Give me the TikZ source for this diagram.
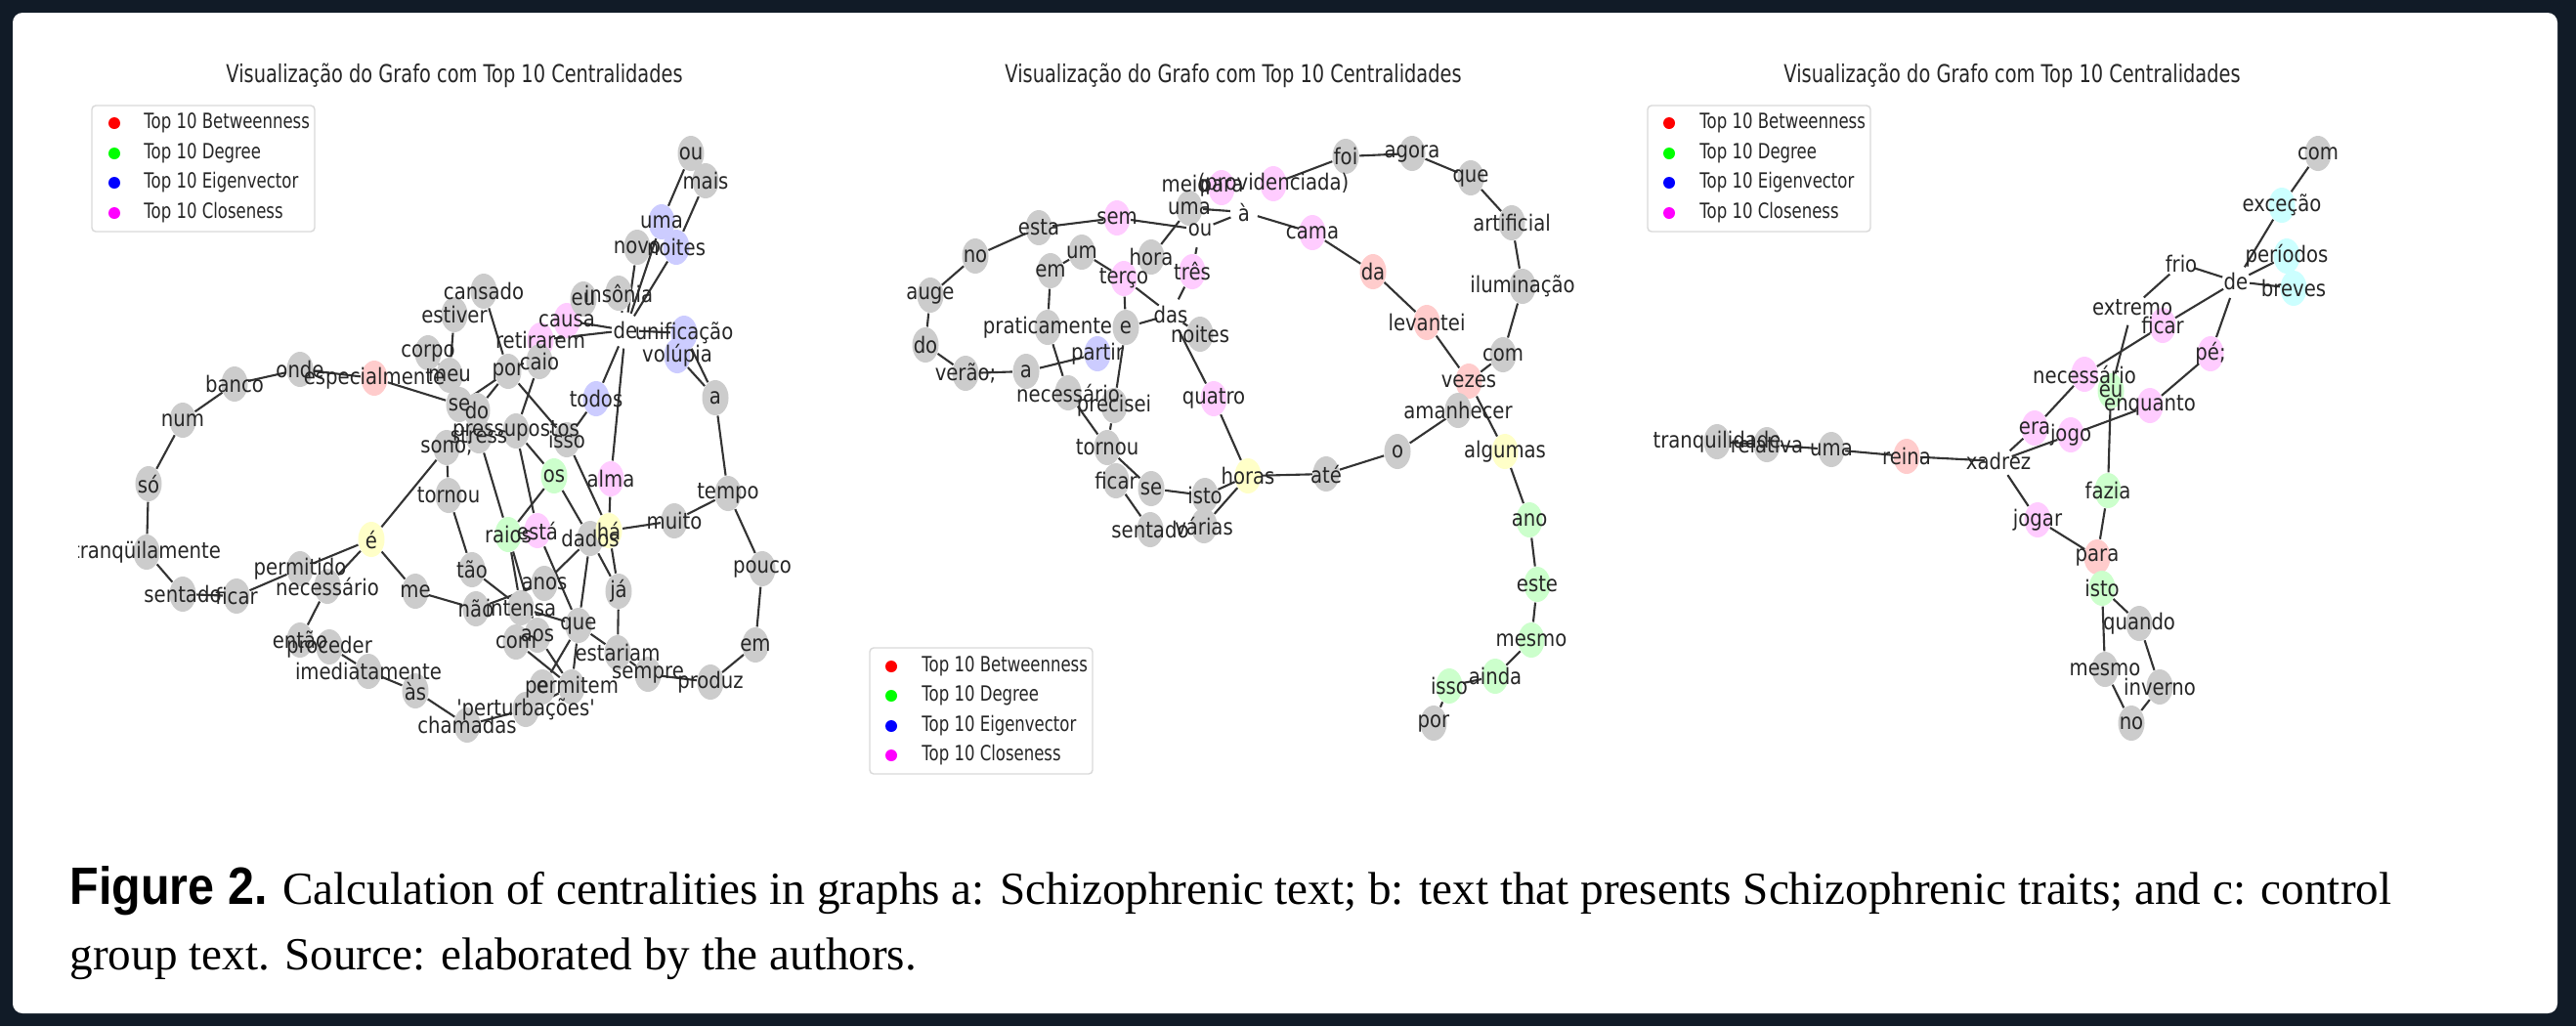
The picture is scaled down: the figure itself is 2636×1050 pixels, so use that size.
\documentclass[tikz,border=0pt]{standalone}
\usepackage{fontspec}
\setmainfont{Liberation Serif}
\newfontfamily\grafofont[FakeStretch=0.86]{DejaVu Sans}
\newfontfamily\titulofont[FakeStretch=0.77]{DejaVu Sans}
\newfontfamily\figurafont[FakeStretch=0.9]{Liberation Sans}
\usetikzlibrary{shapes.geometric, positioning, backgrounds}

\definecolor{moldura}{HTML}{111B27}
\definecolor{cGray}{HTML}{CCCCCC}
\definecolor{cBet}{HTML}{FFCCCC}
\definecolor{cDeg}{HTML}{CCFFCC}
\definecolor{cEig}{HTML}{CCCCFF}
\definecolor{cClo}{HTML}{FFCCFF}
\definecolor{cMix}{HTML}{FFFFC8}
\definecolor{cMixB}{HTML}{CCFFFF}
\definecolor{linha}{HTML}{333333}
\definecolor{pRed}{HTML}{FF0000}
\definecolor{pGreen}{HTML}{00FF00}
\definecolor{pBlue}{HTML}{0000FF}
\definecolor{pMagenta}{HTML}{FF00FF}

% word nodes: name/x/y/colour/word (pixels of the figure)
\newcommand{\nosA}{%
aBanco/240/393/cGray/banco, aOnde/307/378/cGray/onde, aEspec/383/387/cBet/especialmente,
aCorpo/438/361/cGray/corpo, aEstiver/465/322/cGray/estiver, aCansado/495/298/cGray/cansado,
aMeu/460/384/cGray/meu, aSe/470/414/cGray/se, aDo/488/420/cGray/do, aPor/520/380/cGray/por,
aRetir/553/348/cClo/retirarem, aCaio/552/370/cGray/caio, aCausa/580/328/cClo/causa,
aEu/597/306/cGray/eu, aInsonia/633/300/cGray/insônia, aDe/640/338/none/de,
aNovo/652/253/cGray/novo, aUma/677/227/cEig/uma, aNoites/692/253/cEig/noites,
aOu/707/157/cGray/ou, aMais/722/185/cGray/mais, aUnif/700/341/cEig/unificação,
aVolup/693/364/cEig/volúpia, aA/732/407/cGray/a, aTodos/610/408/cEig/todos,
aStress/490/446/cGray/stress, aPress/528/441/cGray/pressupostos, aIsso/580/450/cGray/isso,
aSono/457/458/cGray/sono;, aTornou/459/507/cGray/tornou, aOs/567/487/cDeg/os,
aAlma/625/490/cClo/alma, aRaios/520/547/cDeg/raios, aEsta/550/543/cClo/está,
aDados/604/551/cGray/dados, aHa/623/543/cMix/há, aMuito/690/533/cGray/muito,
aTempo/745/505/cGray/tempo, aPouco/780/582/cGray/pouco, aEm/773/660/cGray/em,
aProduz/727/698/cGray/produz, aSempre/663/690/cGray/sempre, aEstariam/632/668/cGray/estariam,
aJa/633/605/cGray/já, aAnos/557/597/cGray/anos, aQue/592/640/cGray/que,
aIntensa/533/622/cGray/intensa, aTao/483/583/cGray/tão, aNao/487/623/cGray/não,
aCom/528/657/cGray/com, aAos/550/650/cGray/aos, aE/555/703/cGray/e,
aPermitem/585/703/cGray/permitem, aPertur/538/726/cGray/'perturbações',
aChamadas/478/742/cGray/chamadas, aAs/425/707/cGray/às, aImed/377/687/cGray/imediatamente,
aProceder/337/662/cGray/proceder, aEntao/307/655/cGray/então, aNecess/335/600/cGray/necessário,
aPermitido/307/582/cGray/permitido, aFicar/242/610/cGray/ficar, aSentado/187/608/cGray/sentado,
aTranq/150/565/cGray/tranqüilamente, aSo/152/495/cGray/só, aNum/187/430/cGray/num,
aEacute/380/552/cMix/é, aMe/425/605/cGray/me}

\newcommand{\nosB}{%
bEsta/1063/233/cGray/esta, bNo/998/262/cGray/no, bAuge/952/302/cGray/auge,
bDo/947/353/cGray/do, bVerao/988/382/cGray/verão;, bA/1050/380/cGray/a,
bSem/1143/223/cClo/sem, bUm/1107/258/cGray/um, bEm/1075/277/cGray/em,
bTerco/1150/285/cClo/terço, bHora/1178/263/cGray/hora, bTres/1220/278/cClo/três,
bDas/1198/322/none/das, bNoites/1228/342/cGray/noites, bPratic/1072/335/cGray/praticamente,
bE/1152/335/cGray/e, bPartir/1123/362/cEig/partir, bNecess/1093/402/cGray/necessário,
bPrecisei/1140/415/cGray/precisei, bQuatro/1242/408/cClo/quatro, bUma/1217/213/cGray/uma,
bOu/1228/235/none/ou, bMeio/1213/188/none/meio, bPara/1250/192/cClo/para,
bProv/1303/188/cClo/{(providenciada)}, bAcr/1273/217/none/à, bCama/1343/238/cClo/cama,
bDa/1405/278/cBet/da, bLevantei/1460/330/cBet/levantei, bVezes/1503/390/cBet/vezes,
bAmanhecer/1492/420/cGray/amanhecer, bFoi/1377/160/cGray/foi, bAgora/1445/157/cGray/agora,
bQue/1505/182/cGray/que, bArtif/1547/228/cGray/artificial, bIlum/1558/293/cGray/iluminação,
bCom/1538/363/cGray/com, bAlgumas/1540/462/cMix/algumas, bO/1430/462/cGray/o,
bAte/1357/485/cGray/até, bHoras/1277/487/cMix/horas, bAno/1565/532/cDeg/ano,
bEste/1573/598/cDeg/este, bMesmo/1567/655/cDeg/mesmo, bAinda/1530/692/cDeg/ainda,
bIsso/1483/702/cDeg/isso, bPor/1467/740/cGray/por, bTornou/1133/458/cGray/tornou,
bFicar/1142/492/cGray/ficar, bSe/1178/500/cGray/se, bIsto/1233/507/cGray/isto,
bVarias/1232/538/cGray/várias, bSentado/1177/542/cGray/sentado}

\newcommand{\nosC}{%
cTranq/1757/452/cGray/tranquilidade, cRelat/1808/455/cGray/relativa, cUma/1874/460/cGray/uma,
cReina/1951/467/cBet/reina, cXadrez/2045/472/none/xadrez, cEra/2082/438/cClo/era,
cJogo/2119/445/cClo/jogo, cNecess/2133/383/cClo/necessário, cEu/2160/400/cDeg/eu,
cEnquanto/2200/415/cClo/enquanto, cFazia/2157/502/cDeg/fazia, cJogar/2085/532/cClo/jogar,
cPara/2146/570/cBet/para, cIsto/2151/602/cDeg/isto, cQuando/2189/638/cGray/quando,
cMesmo/2154/685/cGray/mesmo, cInverno/2210/703/cGray/inverno, cNo/2181/740/cGray/no,
cExtremo/2182/315/none/extremo, cFicar/2213/333/cClo/ficar, cFrio/2232/270/none/frio,
cDe/2288/288/none/de, cPe/2262/362/cClo/pé;, cPeriodos/2340/262/cMixB/períodos,
cBreves/2347/295/cMixB/breves, cExcecao/2335/210/cMixB/exceção, cCom/2372/157/cGray/com}

\begin{document}
\begin{tikzpicture}[x=0.01cm, y=-0.01cm,
		% define styles
		grafonode/.style={
			% The shape:
			ellipse,
			% The size:
			minimum width=0.27cm,
			minimum height=0.36cm,
			inner sep=0pt
		},
		palavra/.style={
			% Font
			font=\grafofont\fontsize{6.5}{7}\selectfont,
			text=black!85,
			inner sep=0pt
		},
		titulo/.style={
			font=\titulofont\fontsize{7.15}{8}\selectfont,
			text=black!85
		},
		legenda/.style={
			% The border:
			draw=black!15,
			line width=0.4pt,
			fill=white,
			% Corners
			rounded corners=0.04cm
		},
		legponto/.style={
			circle,
			minimum size=0.12cm,
			inner sep=0pt
		},
		legtexto/.style={
			font=\titulofont\fontsize{6.1}{7}\selectfont,
			text=black!85,
			inner sep=0pt
		},
		aresta/.style={
			-,
			% Thickness
			line width=0.6pt,
			% Color
			linha
		}]
		% end of style definition

		% frame
		\begin{scope}[on background layer]
			\fill [moldura] (0,0) rectangle (2636,1050);
			\fill [white, rounded corners=0.1cm] (13,13) rectangle (2617,1037);
		\end{scope}
		\useasboundingbox (0,0) rectangle (2636,1050);

		% titles
		\node (iTitulo1) [titulo] at (465,77) {Visualização do Grafo com Top 10 Centralidades};
		\node (iTitulo2) [titulo] at (1262,77) {Visualização do Grafo com Top 10 Centralidades};
		\node (iTitulo3) [titulo] at (2059,77) {Visualização do Grafo com Top 10 Centralidades};

		% legends
		\draw [legenda] (94,108) rectangle (322,237);
		\node (iBet1) [legponto, fill=pRed] at (117,126) {};
		\node (iDeg1) [legponto, fill=pGreen] at (117,157) {};
		\node (iEig1) [legponto, fill=pBlue] at (117,187) {};
		\node (iClo1) [legponto, fill=pMagenta] at (117,218) {};
		\node (iBetTxt1) [legtexto, right=0.23cm of iBet1] {Top 10 Betweenness};
		\node (iDegTxt1) [legtexto, right=0.23cm of iDeg1] {Top 10 Degree};
		\node (iEigTxt1) [legtexto, right=0.23cm of iEig1] {Top 10 Eigenvector};
		\node (iCloTxt1) [legtexto, right=0.23cm of iClo1] {Top 10 Closeness};

		\draw [legenda] (890,663) rectangle (1118,792);
		\node (iBet2) [legponto, fill=pRed] at (912,682) {};
		\node (iDeg2) [legponto, fill=pGreen] at (912,712) {};
		\node (iEig2) [legponto, fill=pBlue] at (912,743) {};
		\node (iClo2) [legponto, fill=pMagenta] at (912,773) {};
		\node (iBetTxt2) [legtexto, right=0.24cm of iBet2] {Top 10 Betweenness};
		\node (iDegTxt2) [legtexto, right=0.24cm of iDeg2] {Top 10 Degree};
		\node (iEigTxt2) [legtexto, right=0.24cm of iEig2] {Top 10 Eigenvector};
		\node (iCloTxt2) [legtexto, right=0.24cm of iClo2] {Top 10 Closeness};

		\draw [legenda] (1686,108) rectangle (1914,237);
		\node (iBet3) [legponto, fill=pRed] at (1708,126) {};
		\node (iDeg3) [legponto, fill=pGreen] at (1708,157) {};
		\node (iEig3) [legponto, fill=pBlue] at (1708,187) {};
		\node (iClo3) [legponto, fill=pMagenta] at (1708,218) {};
		\node (iBetTxt3) [legtexto, right=0.24cm of iBet3] {Top 10 Betweenness};
		\node (iDegTxt3) [legtexto, right=0.24cm of iDeg3] {Top 10 Degree};
		\node (iEigTxt3) [legtexto, right=0.24cm of iEig3] {Top 10 Eigenvector};
		\node (iCloTxt3) [legtexto, right=0.24cm of iClo3] {Top 10 Closeness};

		% draw nodes (circles first, words on top)
		\foreach \nome/\px/\py/\cor/\txt in \nosA
			\node (\nome) [grafonode, fill=\cor] at (\px,\py) {};
		\foreach \nome/\px/\py/\cor/\txt in \nosB
			\node (\nome) [grafonode, fill=\cor] at (\px,\py) {};
		\foreach \nome/\px/\py/\cor/\txt in \nosC
			\node (\nome) [grafonode, fill=\cor] at (\px,\py) {};

		\begin{scope}
			\clip (80,40) rectangle (870,800);
			\foreach \nome/\px/\py/\cor/\txt in \nosA
				\node [palavra] at (\nome) {\txt};
		\end{scope}
		\foreach \nome/\px/\py/\cor/\txt in \nosB
			\node [palavra] at (\nome) {\txt};
		\foreach \nome/\px/\py/\cor/\txt in \nosC
			\node [palavra] at (\nome) {\txt};

		% connect nodes
		\begin{scope}[on background layer]
		\foreach \ini/\fim in {aBanco/aOnde, aOnde/aEspec, aBanco/aNum, aNum/aSo, aSo/aTranq,
			aTranq/aSentado, aSentado/aFicar, aFicar/aPermitido, aPermitido/aEacute, aNecess/aEacute,
			aNecess/aEntao, aEntao/aProceder, aProceder/aImed, aImed/aAs, aAs/aChamadas,
			aChamadas/aPertur, aPertur/aPermitem, aEspec/aSe, aSe/aDo, aSe/aPor, aDo/aPor,
			aCorpo/aMeu, aEstiver/aMeu, aCansado/aPor, aCaio/aPress, aPor/aIsso, aRetir/aDe,
			aCausa/aDe, aEu/aCausa, aInsonia/aDe, aDe/aNovo, aDe/aUma, aDe/aNoites, aUma/aOu,
			aNoites/aMais, aDe/aUnif, aUnif/aA, aVolup/aA, aDe/aTodos, aTodos/aIsso, aDe/aAlma,
			aAlma/aHa, aIsso/aHa, aPress/aOs, aOs/aRaios, aOs/aDados, aStress/aRaios, aPress/aEsta,
			aHa/aMuito, aMuito/aTempo, aTempo/aA, aTempo/aPouco, aPouco/aEm, aEm/aProduz,
			aProduz/aSempre, aSempre/aEstariam, aEstariam/aQue, aEstariam/aJa, aJa/aHa, aJa/aDados,
			aDados/aAnos, aDados/aQue, aSono/aEacute, aSono/aTornou, aTornou/aTao, aTao/aIntensa,
			aEacute/aMe, aMe/aNao, aNao/aAnos, aIntensa/aQue, aRaios/aIntensa, aRaios/aAos,
			aEsta/aQue, aCom/aPermitem, aAos/aPermitem, aQue/aPermitem, aQue/aE}
			\draw [aresta] (\ini) -- (\fim);
		\foreach \ini/\fim in {bEsta/bNo, bNo/bAuge, bAuge/bDo, bDo/bVerao, bVerao/bA, bA/bPartir,
			bEsta/bSem, bSem/bOu, bHora/bUma, bUma/bAcr, bOu/bAcr, bTres/bOu, bTres/bDas,
			bEm/bUm, bUm/bTerco, bTerco/bDas, bDas/bE, bDas/bNoites, bDas/bQuatro, bEm/bPratic,
			bTerco/bE, bE/bPrecisei, bPratic/bNecess, bNecess/bTornou, bPrecisei/bTornou,
			bTornou/bSe, bFicar/bSentado, bSe/bIsto, bIsto/bHoras, bVarias/bHoras, bQuatro/bHoras,
			bHoras/bAte, bAte/bO, bO/bAmanhecer, bVezes/bAlgumas, bVezes/bCom, bLevantei/bVezes,
			bDa/bLevantei, bCama/bDa, bAcr/bCama, bProv/bFoi, bFoi/bAgora, bAgora/bQue,
			bQue/bArtif, bArtif/bIlum, bIlum/bCom, bAlgumas/bAno, bAno/bEste, bEste/bMesmo,
			bMesmo/bAinda, bAinda/bIsso, bIsso/bPor}
			\draw [aresta] (\ini) -- (\fim);
		\foreach \ini/\fim in {cTranq/cRelat, cRelat/cUma, cUma/cReina, cReina/cXadrez,
			cXadrez/cEra, cXadrez/cJogo, cJogo/cEnquanto, cEra/cNecess, cNecess/cFicar, cFicar/cDe,
			cExtremo/cFrio, cFrio/cDe, cDe/cExcecao, cExcecao/cCom, cDe/cPeriodos, cDe/cBreves,
			cDe/cPe, cPe/cEnquanto, cExtremo/cEu, cEu/cFazia, cFazia/cPara, cXadrez/cJogar,
			cJogar/cPara, cPara/cIsto, cIsto/cQuando, cIsto/cMesmo, cMesmo/cNo, cQuando/cInverno,
			cInverno/cNo}
			\draw [aresta] (\ini) -- (\fim);
		\end{scope}

		% caption
		\node (iCaption1) [anchor=base west, inner sep=0pt, font=\fontsize{13.4}{15}\selectfont] at (71,925)
			{{\figurafont\bfseries\fontsize{15.3}{15}\selectfont Figure 2.} Calculation of centralities in graphs a: Schizophrenic text; b: text that presents Schizophrenic traits; and c: control};
		\node (iCaption2) [anchor=base west, inner sep=0pt, font=\fontsize{13.4}{15}\selectfont] at (71,992)
			{group text. Source: elaborated by the authors.};
	\end{tikzpicture}
\end{document}
